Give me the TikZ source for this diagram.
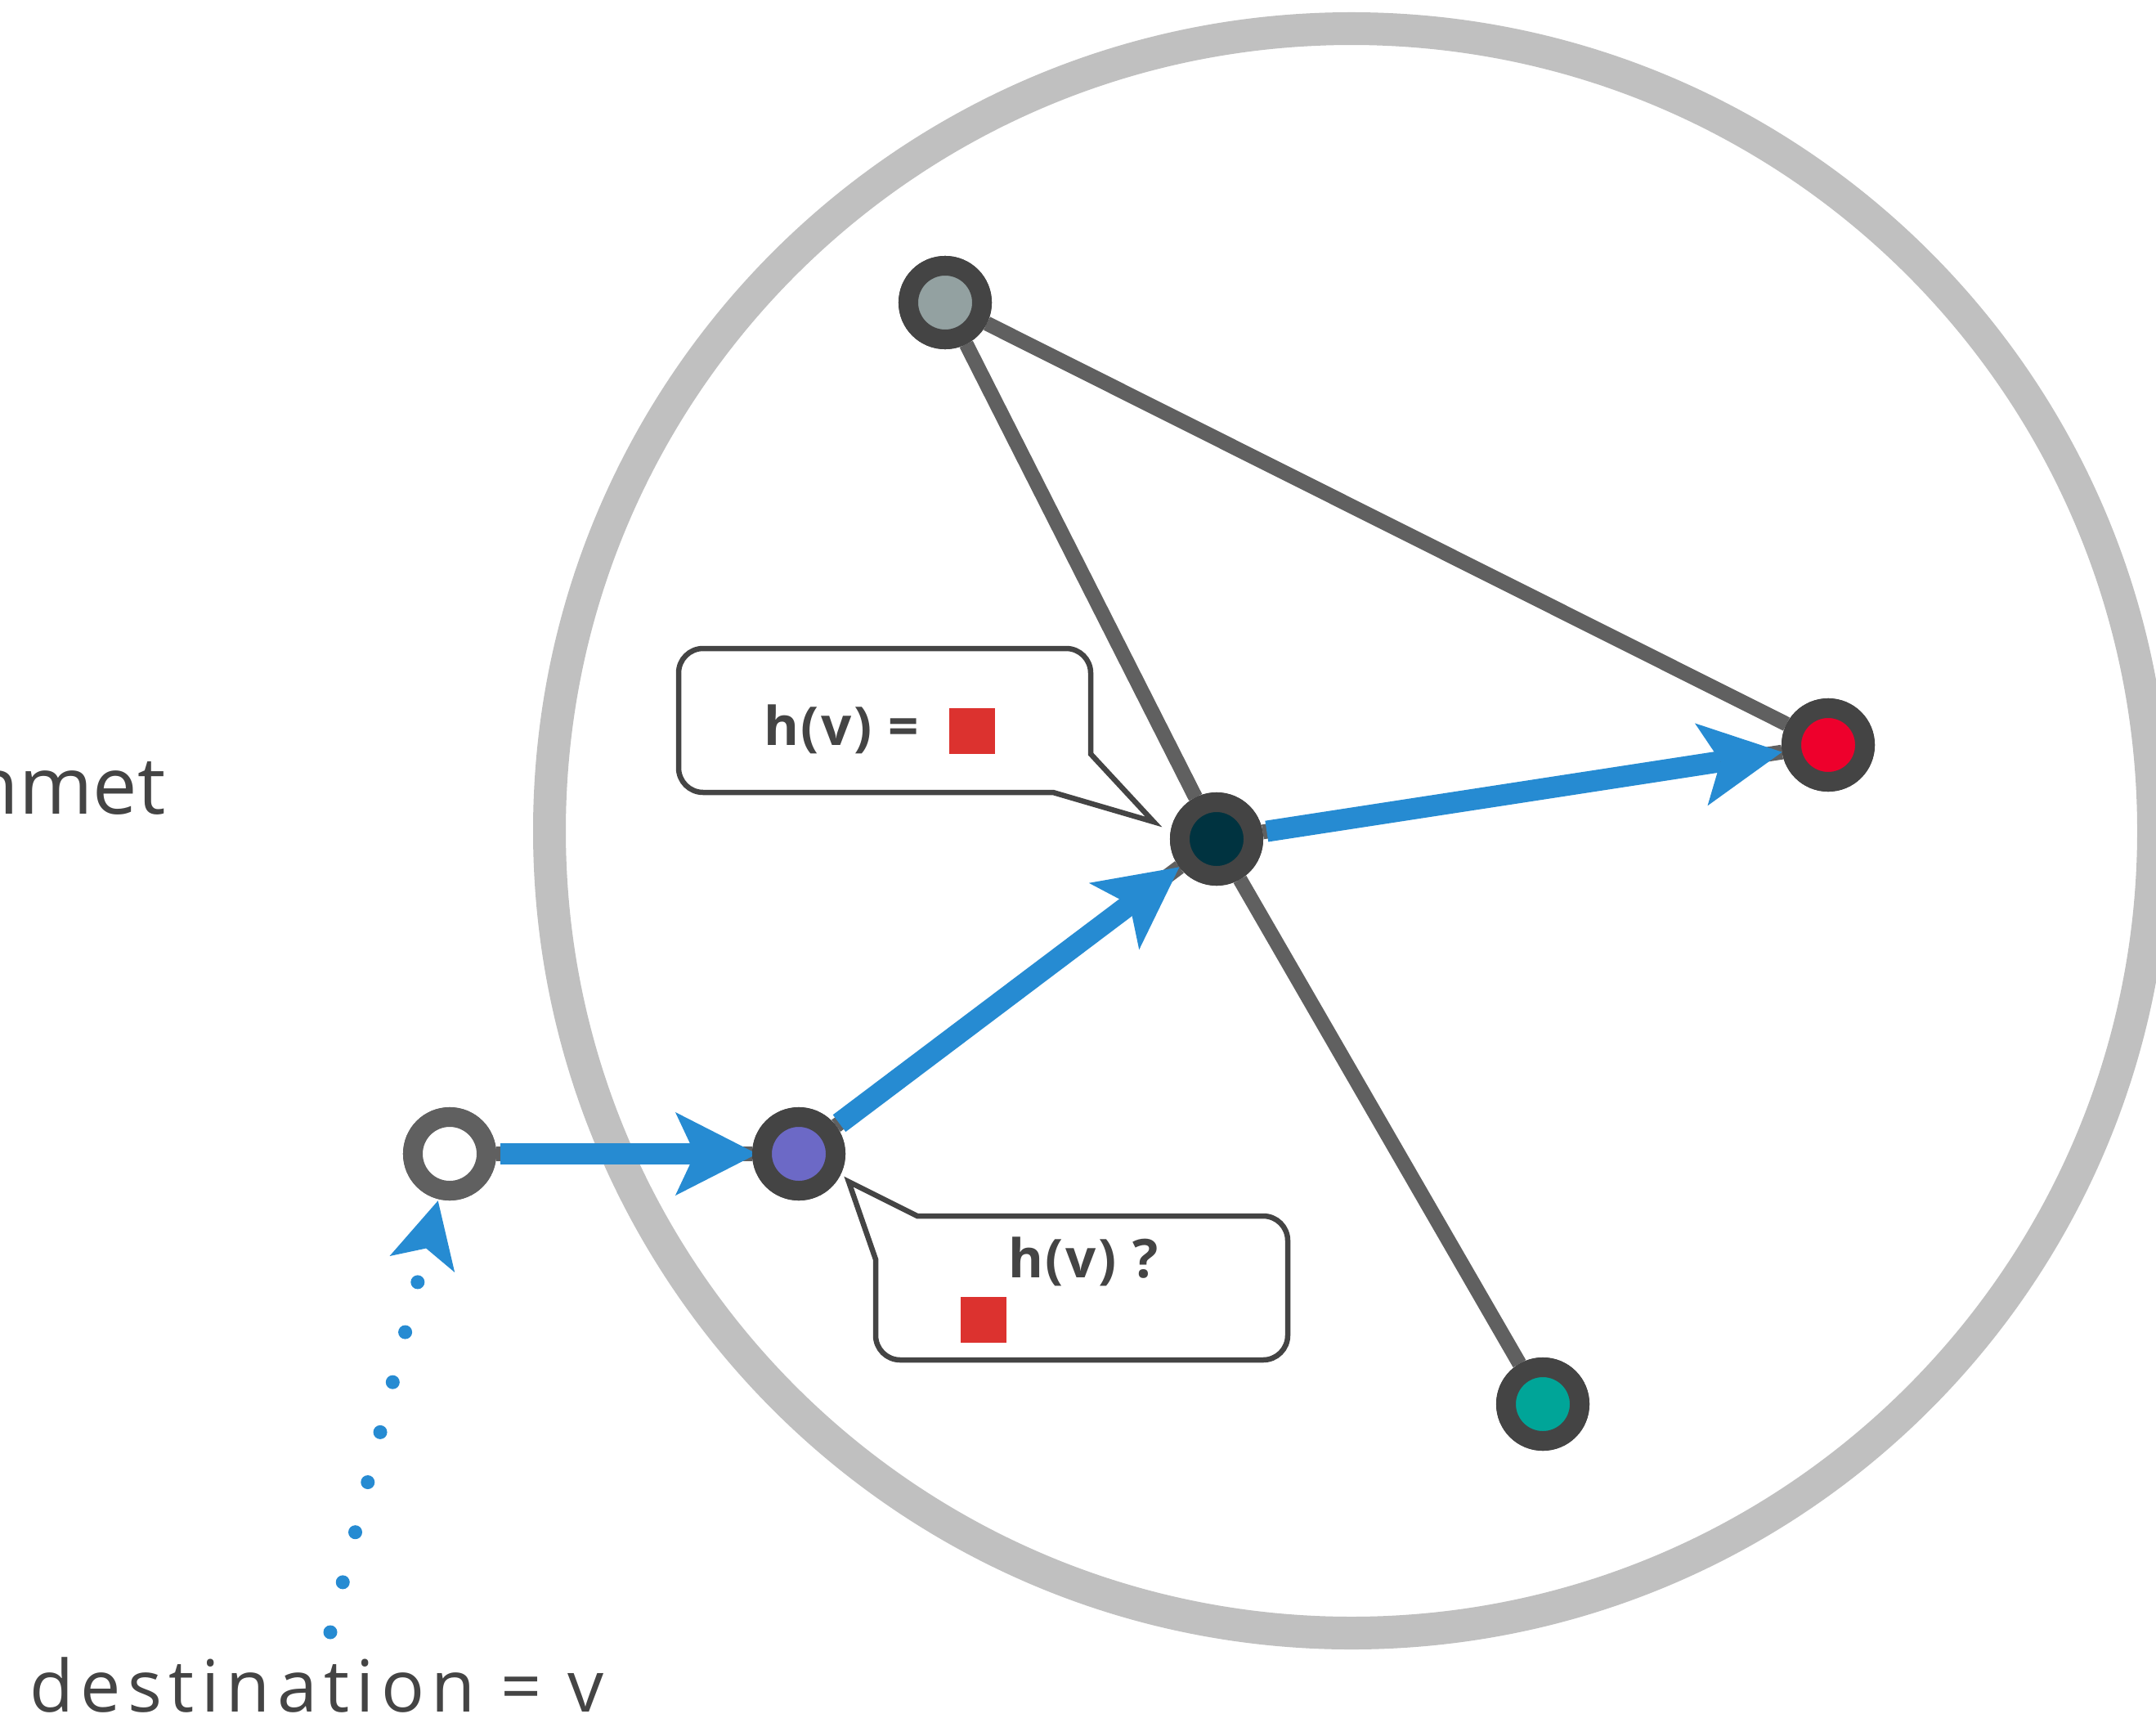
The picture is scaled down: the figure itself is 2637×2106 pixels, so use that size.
\documentclass[tikz,border=0pt]{standalone}
\usepackage{fontspec}
\setmainfont{Open Sans}
\newfontfamily\trackedfont[LetterSpace=9.5]{Open Sans}
\newfontfamily\calloutfont[LetterSpace=4]{Open Sans}
\usetikzlibrary{arrows.meta}
\definecolor{ringgray}{RGB}{192,192,192}
\definecolor{edgegray}{RGB}{96,96,96}
\definecolor{darkring}{RGB}{68,68,68}
\definecolor{txt}{RGB}{68,68,68}
\definecolor{blueC}{RGB}{38,139,210}
\definecolor{sqred}{RGB}{220,50,47}
\definecolor{fillA}{RGB}{147,161,161}
\definecolor{fillB}{RGB}{238,0,44}
\definecolor{fillC}{RGB}{0,51,64}
\definecolor{fillD}{RGB}{0,165,152}
\definecolor{fillE}{RGB}{108,105,198}
\begin{document}
\begin{tikzpicture}[x=0.01cm,y=-0.01cm,
  bigring/.style={draw=ringgray, line width=0.40cm},
  edge/.style={draw=edgegray, line width=0.18cm},
  vert/.style={circle, draw=darkring, line width=0.24cm, minimum size=0.9cm, inner sep=0pt},
  blueline/.style={draw=blueC, line width=0.26cm, shorten <=0.05cm,
    -{Stealth[length=1.0cm, width=1.02cm, inset=0.24cm, line width=0pt]}},
  dotarrow/.style={draw=blueC, line width=0.17cm, line cap=round,
    dash pattern=on 0pt off 0.63cm, shorten >=0.02cm,
    -{Stealth[length=0.8cm, width=0.82cm, inset=0.2cm, line width=0pt]}},
  callout/.style={draw=darkring, fill=white, line width=0.065cm, line join=miter},
  calltext/.style={text=txt, inner sep=0pt, anchor=base,
    font=\calloutfont\bfseries\fontsize{18.6pt}{22pt}\selectfont},
  bigtext/.style={text=txt, inner sep=0pt},
  sq/.style={fill=sqred}
]
\useasboundingbox (0,0) rectangle (2637,2106);
\fill[white] (0,0) rectangle (2637,2106);

% big circle
\draw[bigring] (1653,1016) circle [radius=981];

% vertices (placed first so that edges can refer to them)
\node[vert, fill=fillA] (A) at (1156,370) {};
\node[vert, fill=fillB] (B) at (2236,911) {};
\node[vert, fill=fillC] (C) at (1488,1026) {};
\node[vert, fill=fillD] (D) at (1887,1717) {};
\node[vert, fill=fillE] (E) at (977,1411) {};
\node[vert, fill=white, draw=edgegray] (F) at (550,1411) {};

% gray edges
\draw[edge] (A) -- (B);
\draw[edge] (A) -- (C);
\draw[edge] (C) -- (D);
\draw[edge] (C) -- (B);
\draw[edge] (C) -- (E);
\draw[edge] (E) -- (F);

% blue arrows
\draw[blueline, shorten >=-0.06cm] (F) -- (E);
\draw[blueline] (E) -- (C);
\draw[blueline] (C) -- (B);

% dotted arrow from label to F
\coordinate (dstart) at (404,1996);
\draw[dotarrow] (dstart) -- (F);

% redraw vertices on top
\node[vert, fill=fillA] at (A) {};
\node[vert, fill=fillB] at (B) {};
\node[vert, fill=fillC] at (C) {};
\node[vert, fill=fillD] at (D) {};
\node[vert, fill=fillE] at (E) {};
\node[vert, fill=white, draw=edgegray] at (F) {};

% callout 1
\draw[callout] (1334,922) -- (1411,1005) -- (1288,969) -- (860,969)
  .. controls (843.4,969) and (830,955.6) .. (830,939) -- (830,823)
  .. controls (830,806.4) and (843.4,793) .. (860,793) -- (1304,793)
  .. controls (1320.6,793) and (1334,806.4) .. (1334,823) -- cycle;
\node[calltext] (t1) at (1029,911) {h(v) =};
\fill[sq] (1161,866) rectangle (1217,922);

% callout 2
\draw[callout] (1071,1540) -- (1038,1445) -- (1122,1487) -- (1545,1487)
  .. controls (1561.6,1487) and (1575,1500.4) .. (1575,1517) -- (1575,1633)
  .. controls (1575,1649.6) and (1561.6,1663) .. (1545,1663) -- (1101,1663)
  .. controls (1084.4,1663) and (1071,1649.6) .. (1071,1633) -- cycle;
\node[calltext] (t2) at (1325,1562) {h(v) ?};
\fill[sq] (1175,1586) rectangle (1231,1642);

% texts
\node[bigtext, anchor=base east, font=\fontsize{27.6pt}{33pt}\selectfont] (lbl1) at (203,995) {nmet};
\node[bigtext, anchor=base west, font=\trackedfont\fontsize{25pt}{30pt}\selectfont] (lbl2) at (36,2093) {destination = v};
\end{tikzpicture}
\end{document}
